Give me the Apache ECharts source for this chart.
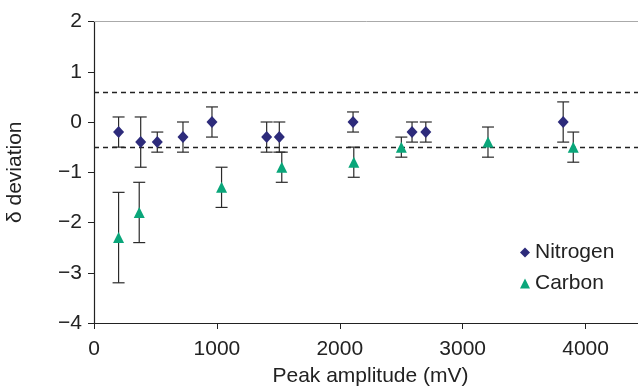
<!DOCTYPE html>
<html>
<head>
<meta charset="utf-8">
<script src="https://cdn.jsdelivr.net/npm/echarts@6/dist/echarts.min.js"></script>
<style>
html,body{margin:0;padding:0;background:#fff;}
#chart{width:638px;height:390px;}
</style>
</head>
<body>
<div id="chart"></div>
<script>
// Nitrogen series
var nitrogenX = [200, 380, 515, 724, 960, 1405, 1508, 2108, 2588, 2700, 3818];
var nitrogenY = [-0.2, -0.4, -0.4, -0.3, 0.0, -0.3, -0.3, 0.0, -0.2, -0.2, 0.0];
var nitrogenErr = [0.3, 0.5, 0.2, 0.3, 0.3, 0.3, 0.3, 0.2, 0.2, 0.2, 0.4];
// Carbon series
var carbonX = [200, 368, 1038, 1528, 2114, 2501, 3206, 3900];
var carbonY = [-2.3, -1.8, -1.3, -0.9, -0.8, -0.5, -0.4, -0.5];
var carbonErr = [0.9, 0.6, 0.4, 0.3, 0.3, 0.2, 0.3, 0.3];
// reference lines
var refLines = [0.6, -0.5];
var xTicks = [0, 1000, 2000, 3000, 4000];

var FONT = "'Liberation Sans', Arial, Helvetica, sans-serif";
var TXT = '#222';

function zip(xs, ys) { return xs.map(function (x, i) { return [x, ys[i]]; }); }
function errData(xs, ys, es) { return xs.map(function (x, i) { return [x, ys[i] - es[i], ys[i] + es[i]]; }); }

function errRender(params, api) {
  var x = api.value(0);
  var lo = api.coord([x, api.value(1)]);
  var hi = api.coord([x, api.value(2)]);
  var hw = 6;
  var st = { stroke: '#2a2a2a', lineWidth: 1.2 };
  return {
    type: 'group',
    children: [
      { type: 'line', shape: { x1: lo[0], y1: lo[1], x2: hi[0], y2: hi[1] }, style: st },
      { type: 'line', shape: { x1: lo[0] - hw, y1: lo[1], x2: lo[0] + hw, y2: lo[1] }, style: st },
      { type: 'line', shape: { x1: hi[0] - hw, y1: hi[1], x2: hi[0] + hw, y2: hi[1] }, style: st }
    ]
  };
}

var chart = echarts.init(document.getElementById('chart'), null, { renderer: 'canvas' });
chart.setOption({
  animation: false,
  backgroundColor: '#fff',
  textStyle: { fontFamily: FONT },
  grid: { left: 94, top: 21.5, width: 553, height: 301.5, containLabel: false, outerBoundsMode: 'none' },
  legend: {
    orient: 'vertical',
    left: 515,
    top: 237,
    itemWidth: 10,
    itemHeight: 10,
    itemGap: 10,
    textStyle: { fontFamily: FONT, fontSize: 21, color: TXT },
    data: [
      { name: 'Nitrogen', icon: 'diamond' },
      { name: 'Carbon', icon: 'triangle' }
    ]
  },
  xAxis: [{
    type: 'value',
    min: 0, max: 4500, interval: 1000,
    name: 'Peak amplitude (mV)',
    nameLocation: 'middle',
    nameGap: 43,
    nameTextStyle: { fontFamily: FONT, fontSize: 21, color: TXT },
    axisLine: { show: true, onZero: false, lineStyle: { color: '#222', width: 1.2 } },
    axisTick: { show: true, inside: false, length: 6, lineStyle: { color: '#222' } },
    axisLabel: {
      fontFamily: FONT, fontSize: 21, color: TXT, margin: 16,
      formatter: function (v) { return xTicks.indexOf(v) >= 0 ? String(v) : ''; }
    },
    splitLine: { show: false }
  }, {
    type: 'value',
    position: 'top',
    min: 0, max: 4500,
    axisLine: { show: true, onZero: false, lineStyle: { color: '#aaa', width: 1 } },
    axisTick: { show: false },
    axisLabel: { show: false },
    splitLine: { show: false }
  }],
  yAxis: {
    type: 'value',
    min: -4, max: 2, interval: 1,
    name: 'δ deviation',
    nameLocation: 'middle',
    nameGap: 68,
    nameTextStyle: { fontFamily: FONT, fontSize: 21, color: TXT },
    axisLine: { show: true, onZero: false, lineStyle: { color: '#222', width: 1.2 } },
    axisTick: { show: true, inside: false, length: 6, lineStyle: { color: '#222' } },
    axisLabel: {
      fontFamily: FONT, fontSize: 21, color: TXT, margin: 12,
      formatter: function (v) { return String(v).replace('-', '\u2212'); }
    },
    splitLine: { show: false }
  },
  series: [
    {
      type: 'custom', name: 'NitrogenErr', renderItem: errRender,
      data: errData(nitrogenX, nitrogenY, nitrogenErr), z: 2, silent: true,
      encode: { x: 0, y: [1, 2] }
    },
    {
      type: 'custom', name: 'CarbonErr', renderItem: errRender,
      data: errData(carbonX, carbonY, carbonErr), z: 2, silent: true,
      encode: { x: 0, y: [1, 2] }
    },
    {
      type: 'scatter', name: 'Nitrogen', symbol: 'diamond', symbolSize: [11, 12],
      itemStyle: { color: '#2d2b7b', opacity: 1 },
      data: zip(nitrogenX, nitrogenY), z: 5,
      markLine: {
        silent: true, symbol: ['none', 'none'], label: { show: false },
        lineStyle: { color: '#222', type: [5, 4], width: 1.3 },
        data: refLines.map(function (v) { return { yAxis: v }; })
      }
    },
    {
      type: 'scatter', name: 'Carbon', symbol: 'triangle', symbolSize: [11, 11],
      itemStyle: { color: '#0aa67a', opacity: 1 },
      data: zip(carbonX, carbonY), z: 5
    }
  ]
});
</script>
</body>
</html>
